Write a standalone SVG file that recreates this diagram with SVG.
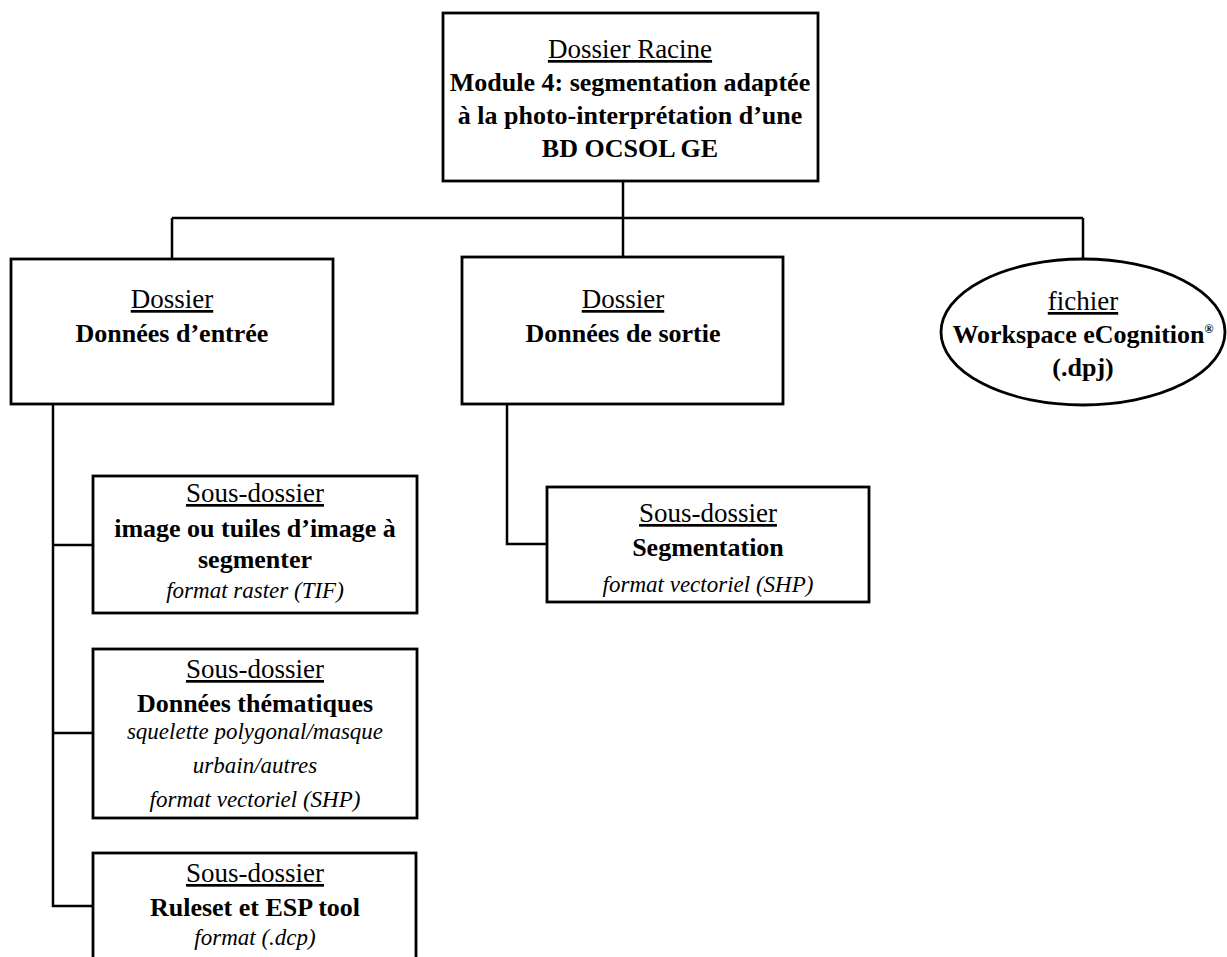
<svg xmlns="http://www.w3.org/2000/svg" width="1227" height="957" viewBox="0 0 1227 957">
<style>
.box{fill:#fff;stroke:#000;stroke-width:2.8}
.conn{fill:none;stroke:#000;stroke-width:2.5}
text{font-family:"Liberation Serif","Times New Roman",serif;text-anchor:middle;fill:#000}
.h{font-size:27px;text-decoration:underline}
.b{font-size:26px;font-weight:bold}
.i{font-size:23px;font-style:italic}
.sup{font-size:12px;fill:#000;font-family:"Liberation Serif",serif}
</style>
<rect width="1227" height="957" fill="#fff"/>
<g id="connectors">
<path class="conn" d="M623,181 V218 M172,218 H1083 M172,218 V259 M623,218 V257 M1083,218 V259"/>
<path class="conn" d="M53,404 V906 H93 M53,545 H93 M53,733 H93"/>
<path class="conn" d="M507,404 V544 H547"/>
</g>
<g id="root">
<rect class="box" x="443" y="13" width="375" height="168"/>
<text class="h" x="630" y="58">Dossier Racine</text>
<text class="b" x="630" y="91">Module 4: segmentation adaptée</text>
<text class="b" x="630" y="124">à la photo-interprétation d’une</text>
<text class="b" x="630" y="157">BD OCSOL GE</text>
</g>
<g id="entree">
<rect class="box" x="11" y="259" width="322" height="145"/>
<text class="h" x="172" y="308">Dossier</text>
<text class="b" x="172" y="342">Données d’entrée</text>
</g>
<g id="sortie">
<rect class="box" x="462" y="257" width="321" height="147"/>
<text class="h" x="623" y="308">Dossier</text>
<text class="b" x="623" y="342">Données de sortie</text>
</g>
<g id="workspace">
<ellipse class="box" cx="1083" cy="332" rx="142" ry="73"/>
<text class="h" x="1083" y="310">fichier</text>
<text class="b" x="1083" y="343">Workspace eCognition<tspan class="sup" dy="-10">®</tspan></text>
<text class="b" x="1083" y="376">(.dpj)</text>
</g>
<g id="image">
<rect class="box" x="93" y="476" width="324" height="137"/>
<text class="h" x="255" y="502">Sous-dossier</text>
<text class="b" x="255" y="537">image ou tuiles d’image à</text>
<text class="b" x="255" y="568">segmenter</text>
<text class="i" x="255" y="598">format raster (TIF)</text>
</g>
<g id="thematiques">
<rect class="box" x="93" y="649" width="324" height="169"/>
<text class="h" x="255" y="678">Sous-dossier</text>
<text class="b" x="255" y="712">Données thématiques</text>
<text class="i" x="255" y="739">squelette polygonal/masque</text>
<text class="i" x="255" y="773">urbain/autres</text>
<text class="i" x="255" y="807">format vectoriel (SHP)</text>
</g>
<g id="ruleset">
<rect class="box" x="93" y="853" width="323" height="120"/>
<text class="h" x="255" y="882">Sous-dossier</text>
<text class="b" x="255" y="916">Ruleset et ESP tool</text>
<text class="i" x="255" y="945">format (.dcp)</text>
</g>
<g id="segmentation">
<rect class="box" x="547" y="487" width="322" height="115"/>
<text class="h" x="708" y="522">Sous-dossier</text>
<text class="b" x="708" y="556">Segmentation</text>
<text class="i" x="708" y="592">format vectoriel (SHP)</text>
</g>
</svg>
